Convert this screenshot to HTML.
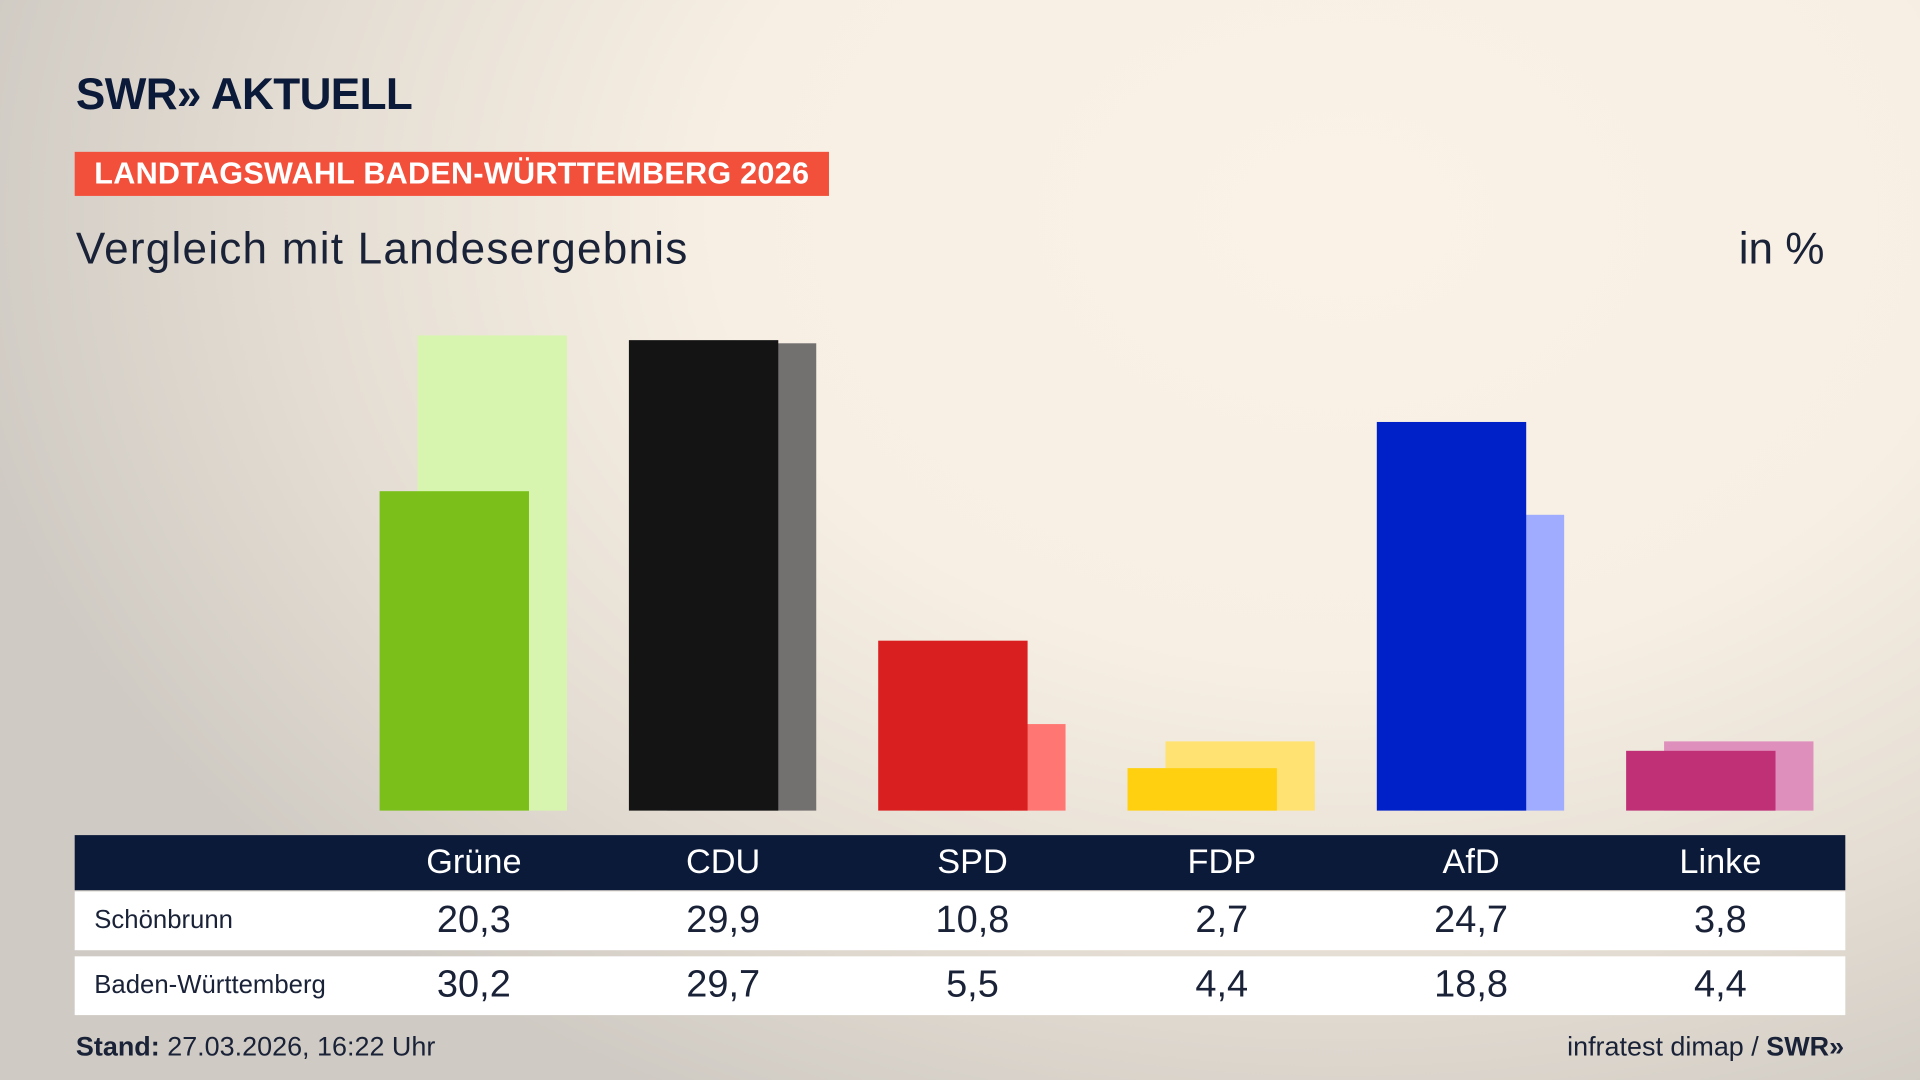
<!DOCTYPE html>
<html><head><meta charset="utf-8">
<style>
html,body{margin:0;padding:0;width:1920px;height:1080px;overflow:hidden}
body{background:radial-gradient(ellipse 1400px 1000px at 70% 20%, #faf2e6 0%, #f7efe3 45%, #e4ddd3 75%, #cfcac3 100%);font-family:"Liberation Sans","DejaVu Sans",sans-serif;color:#0c1a3a}
#stage{position:absolute;left:0;top:0;width:1568px;height:882px;transform:scale(1.22449);transform-origin:0 0}
.abs{position:absolute}
</style></head><body>
<div id="stage">
 <div class="abs" style="left:62px;top:56px;font-size:36px;font-weight:bold;letter-spacing:-0.5px;color:#0c1a3a">SWR» AKTUELL</div>
 <div class="abs" style="left:61px;top:124px;width:616px;height:36px;background:#f2503b;color:#fff;font-weight:bold;font-size:25px;line-height:37px;text-indent:16px;letter-spacing:0.2px">LANDTAGSWAHL BADEN-WÜRTTEMBERG 2026</div>
 <div class="abs" style="left:62px;top:182px;font-size:36px;letter-spacing:1px;color:#1a2238">Vergleich mit Landesergebnis</div>
 <div class="abs" style="right:78px;top:182px;font-size:36px;color:#1a2238">in %</div>
 <svg class="abs" id="bars" style="left:0;top:0" width="1568" height="882"></svg>
 <div class="abs" style="left:61px;top:682px;width:1446px;height:45px;background:#0c1a3a"></div>
 <div class="abs" style="left:61px;top:728px;width:1446px;height:48px;background:#fff"></div>
 <div class="abs" style="left:61px;top:781px;width:1446px;height:48px;background:#fff"></div>
 <div class="abs" style="left:77px;top:740px;font-size:21px;color:#1a2238">Schönbrunn</div>
 <div class="abs" style="left:77px;top:793px;font-size:21px;color:#1a2238">Baden-Württemberg</div>
 <div id="cells"></div>
 <div class="abs" style="left:62px;top:842px;font-size:22px;color:#1a2238"><b>Stand:</b> 27.03.2026, 16:22 Uhr</div>
 <div class="abs" style="right:62px;top:842px;font-size:22px;color:#1a2238">infratest dimap / <b>SWR»</b></div>
</div>
<script>
const parties=["Grüne","CDU","SPD","FDP","AfD","Linke"];
const local=[20.3,29.9,10.8,2.7,24.7,3.8];
const state=[30.2,29.7,5.5,4.4,18.8,4.4];
const localLabels=["20,3","29,9","10,8","2,7","24,7","3,8"];
const stateLabels=["30,2","29,7","5,5","4,4","18,8","4,4"];
const darkC=["#7abf1a","#141414","#d91f1f","#ffd00f","#0020c8","#bf3077"];
const lightC=["#d7f5ae","#737070","#ff7673","#ffe272","#a0acff","#df8fbb"];
const base=662, pxPer=12.85, x0=310, step=203.6, bw=122, off=31;
const y=v=>base-v*pxPer;
const xs=i=>x0+i*step;
const svg=document.getElementById('bars');
const NS="http://www.w3.org/2000/svg";
function rect(x,yy,w,h,f,name){const r=document.createElementNS(NS,'rect');
r.setAttribute('x',x);r.setAttribute('y',yy);r.setAttribute('width',w);r.setAttribute('height',h);r.setAttribute('fill',f);


svg.appendChild(r);}
const cells=document.getElementById('cells');
function cell(txt,cx,top,size,color,name){const d=document.createElement('div');d.className='abs';
d.style.cssText=`left:${cx-100}px;width:200px;text-align:center;top:${top}px;font-size:${size}px;color:${color}`;
d.textContent=txt;


cells.appendChild(d);}
parties.forEach((p,i)=>{
 const k=p.toLowerCase();
 rect(xs(i)+off,y(state[i]),bw,state[i]*pxPer,lightC[i],'bar-state-'+k);
 rect(xs(i),y(local[i]),bw,local[i]*pxPer,darkC[i],'bar-local-'+k);
 const cx=xs(i)+77;
 cell(p,cx,688,28,'#fff','header-'+k);
 cell(localLabels[i],cx,733,31,'#1a2238','value-local-'+k);
 cell(stateLabels[i],cx,786,31,'#1a2238','value-state-'+k);
});
</script>
</body></html>
